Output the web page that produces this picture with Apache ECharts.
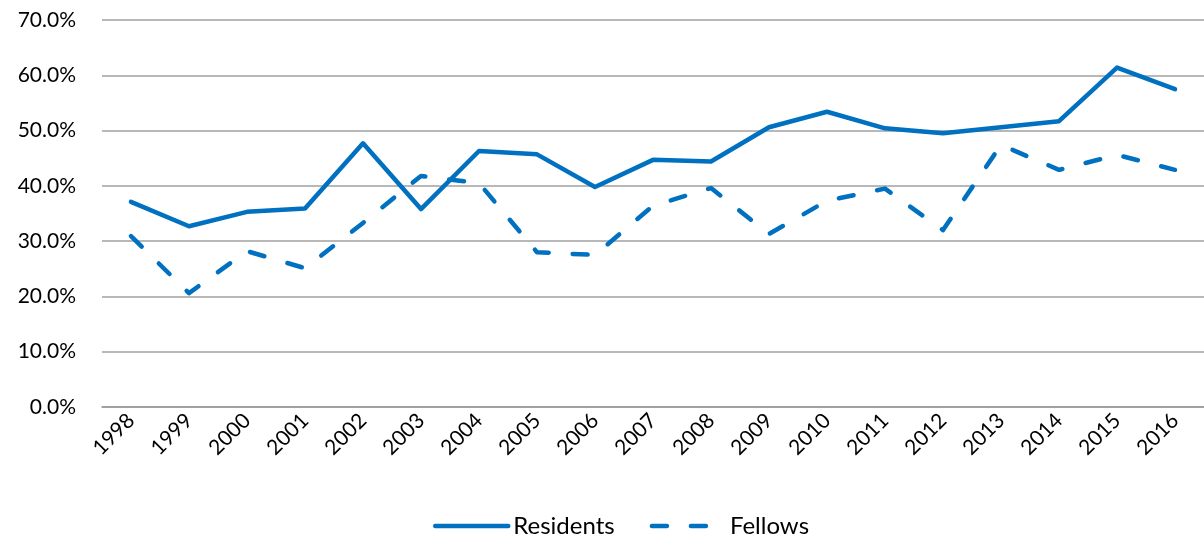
<!DOCTYPE html>
<html>
<head>
<meta charset="utf-8">
<script src="https://cdn.jsdelivr.net/npm/echarts@6/dist/echarts.min.js"></script>
<style>
html,body{margin:0;padding:0;background:#fff;}
#chart{width:1204px;height:540px;}
</style>
</head>
<body>
<div id="chart"></div>
<script>
const years = ['1998','1999','2000','2001','2002','2003','2004','2005','2006','2007','2008','2009','2010','2011','2012','2013','2014','2015','2016'];
const residents = [37.1, 32.7, 35.3, 35.9, 47.7, 35.8, 46.3, 45.7, 39.8, 44.7, 44.4, 50.6, 53.4, 50.4, 49.5, 50.6, 51.7, 61.4, 57.5];
const fellows = [30.9, 20.6, 28.2, 25.1, 33.3, 41.8, 40.5, 28.0, 27.5, 36.4, 39.6, 31.3, 37.3, 39.5, 32.0, 47.4, 42.9, 45.6, 42.9];
const yTicks = [0, 10, 20, 30, 40, 50, 60, 70];

const font = 'Lato, "Open Sans", sans-serif';
const blue = '#0070C0';
const chart = echarts.init(document.getElementById('chart'));
chart.setOption({
  animation: false,
  backgroundColor: '#fff',
  grid: { left: 102, right: -2, top: 20, bottom: 133, containLabel: false },
  legend: {
    left: 433, top: 514, padding: 0,
    itemWidth: 73, itemHeight: 26, itemGap: 35,
    textStyle: { fontFamily: font, fontSize: 24, color: '#000' },
    itemStyle: { opacity: 0 },
    lineStyle: { width: 4.5, cap: 'round' },
    data: ['Residents', 'Fellows']
  },
  xAxis: {
    type: 'category',
    data: years,
    boundaryGap: true,
    axisLine: { lineStyle: { color: '#999', width: 1.5 } },
    axisTick: { alignWithLabel: true, length: 5, lineStyle: { color: '#999', width: 1.5 } },
    axisLabel: { rotate: 45, margin: 10, fontFamily: font, fontSize: 21, color: '#000', interval: 0 }
  },
  yAxis: {
    type: 'value',
    min: yTicks[0], max: yTicks[yTicks.length - 1], interval: 10,
    axisLine: { show: false },
    axisTick: { show: false },
    splitLine: { lineStyle: { color: '#a0a0a0', width: 1.5 } },
    axisLabel: { margin: 26, fontFamily: font, fontSize: 21, color: '#000', formatter: v => v.toFixed(1) + '%' }
  },
  series: [
    {
      name: 'Residents', type: 'line', data: residents,
      symbol: 'none', smooth: false,
      lineStyle: { color: blue, width: 4.5, cap: 'round', join: 'round' },
      itemStyle: { color: blue }
    },
    {
      name: 'Fellows', type: 'line', data: fellows,
      symbol: 'none', smooth: false,
      lineStyle: { color: blue, width: 4.5, type: [15, 24], cap: 'round', join: 'round' },
      itemStyle: { color: blue }
    }
  ]
});
</script>
</body>
</html>
